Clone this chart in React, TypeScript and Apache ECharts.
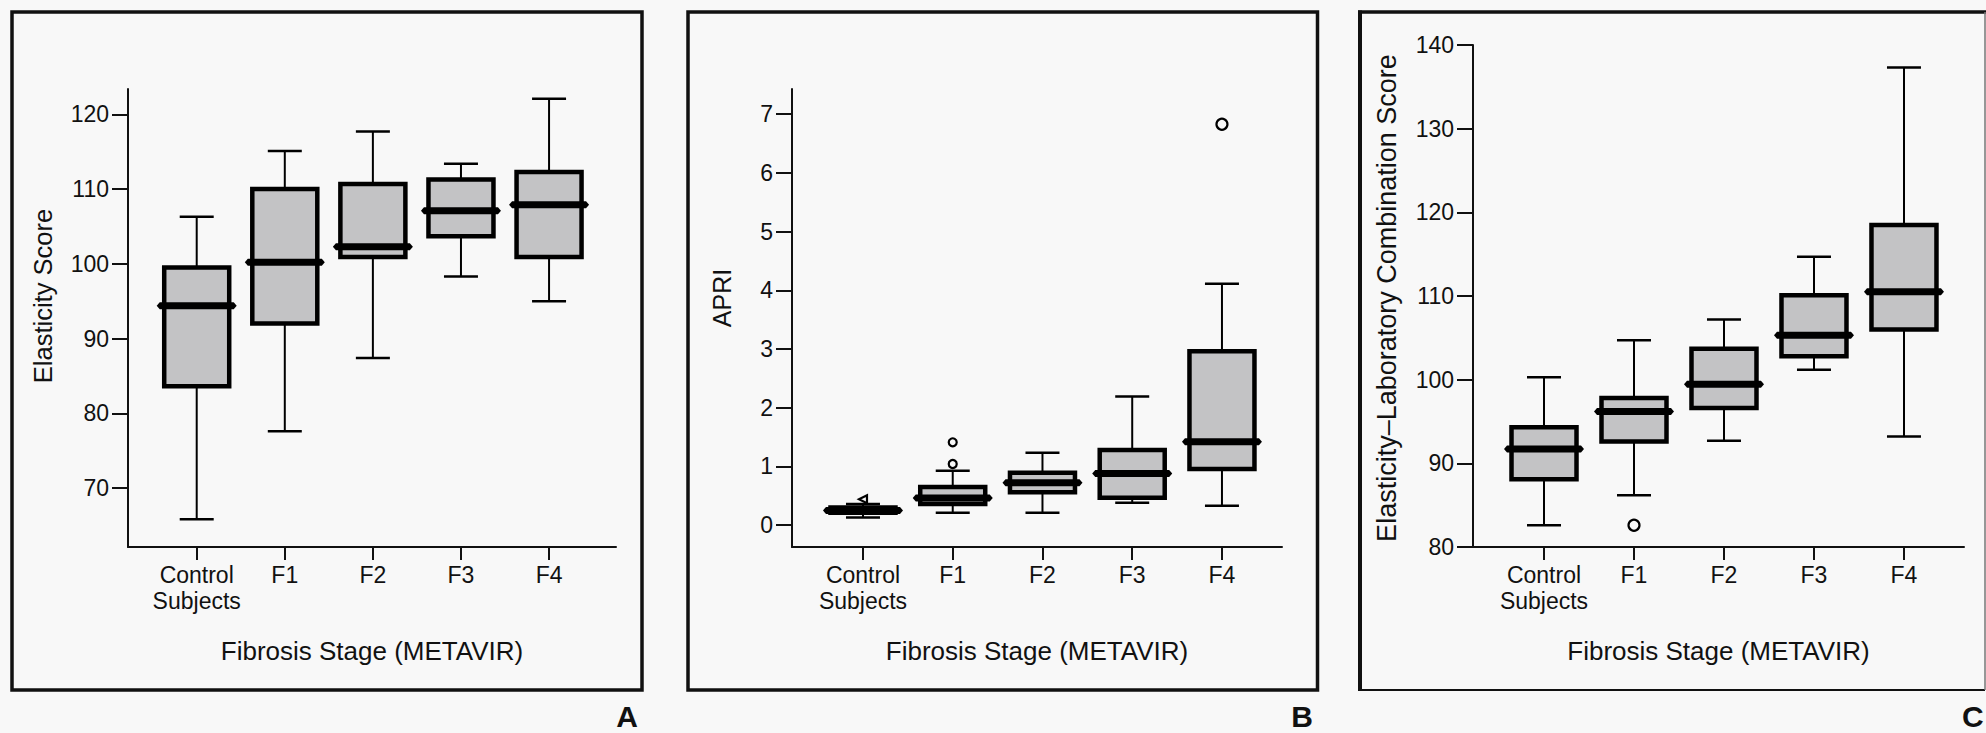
import React, { useEffect, useRef } from "react";
import * as echarts from "echarts";

// ---------- data ----------
const categories = ["Control\nSubjects", "F1", "F2", "F3", "F4"];

// [min, q1, median, q3, max]
const elasticityScore = [
  [65.8, 83.6, 94.4, 99.5, 106.3],
  [77.6, 92.0, 100.2, 110.0, 115.1],
  [87.4, 100.9, 102.3, 110.7, 117.7],
  [98.3, 103.7, 107.1, 111.3, 113.4],
  [95.0, 100.9, 107.9, 112.3, 122.1],
];
const elasticityOutliers: number[][] = [];
const elasticityTicks = [70, 80, 90, 100, 110, 120];

const apri = [
  [0.13, 0.21, 0.25, 0.3, 0.36],
  [0.21, 0.36, 0.46, 0.65, 0.925],
  [0.21, 0.56, 0.72, 0.89, 1.23],
  [0.38, 0.465, 0.88, 1.28, 2.19],
  [0.33, 0.955, 1.42, 2.96, 4.11],
];
const apriOutliers = [
  [0, 0.44],
  [1, 1.04],
  [1, 1.41],
  [4, 6.83],
];
const apriTicks = [0, 1, 2, 3, 4, 5, 6, 7];

const combinationScore = [
  [82.6, 88.1, 91.7, 94.3, 100.3],
  [86.2, 92.6, 96.2, 97.8, 104.7],
  [92.7, 96.6, 99.45, 103.7, 107.2],
  [101.2, 102.8, 105.3, 110.1, 114.7],
  [93.2, 106.0, 110.5, 118.5, 137.3],
];
const combinationOutliers = [[1, 82.6]];
const combinationTicks = [80, 90, 100, 110, 120, 130, 140];

const xTitle = "Fibrosis Stage (METAVIR)";
const panelLetters = ["A", "B", "C"];
const yTitles = ["Elasticity Score", "APRI", "Elasticity–Laboratory Combination Score"];

// ---------- layout ----------
const FONT = "'Liberation Sans', Arial, Helvetica, sans-serif";
const INK = "#111111";
const BG = "#f8f8f8";
const BOX_FILL = "#c3c3c5";

const panels = [
  {
    grid: { left: 128, top: 89, width: 488, height: 458 },
    xMin: -0.78, xMax: 4.76, yMin: 62.1, yMax: 123.4,
    stats: elasticityScore, outliers: elasticityOutliers, ticks: elasticityTicks,
    yTitlePos: [43, 296], yTitleSize: 25.5,
    letterPos: [638, 731], letterAlign: "right",
  },
  {
    grid: { left: 792, top: 89, width: 490, height: 458 },
    xMin: -0.791, xMax: 4.669, yMin: -0.374, yMax: 7.43,
    stats: apri, outliers: apriOutliers, ticks: apriTicks,
    yTitlePos: [722, 298], yTitleSize: 25,
    letterPos: [1313, 731], letterAlign: "right",
  },
  {
    grid: { left: 1473, top: 45, width: 491, height: 502 },
    xMin: -0.789, xMax: 4.667, yMin: 80, yMax: 140,
    stats: combinationScore, outliers: combinationOutliers, ticks: combinationTicks,
    yTitlePos: [1387, 298], yTitleSize: 27,
    letterPos: [1962, 731], letterAlign: "left",
  },
];

function renderBox(params: any, api: any) {
  const x = api.value(0);
  const yMin = api.coord([x, api.value(1)])[1];
  const yQ1 = api.coord([x, api.value(2)])[1];
  const yMed = api.coord([x, api.value(3)])[1];
  const yQ3 = api.coord([x, api.value(4)])[1];
  const yMax = api.coord([x, api.value(5)])[1];
  const cx = api.coord([x, api.value(3)])[0];
  const boxW = 65;
  const capW = 34;
  const medW = 80;
  const medH = 7;
  const lineStyle = { stroke: "#000", lineWidth: 2, fill: "none" };
  const capStyle = { stroke: "#000", lineWidth: 2.5, fill: "none" };
  return {
    type: "group",
    children: [
      { type: "line", shape: { x1: cx, y1: yQ3, x2: cx, y2: yMax }, style: lineStyle },
      { type: "line", shape: { x1: cx, y1: yQ1, x2: cx, y2: yMin }, style: lineStyle },
      { type: "line", shape: { x1: cx - capW / 2, y1: yMax, x2: cx + capW / 2, y2: yMax }, style: capStyle },
      { type: "line", shape: { x1: cx - capW / 2, y1: yMin, x2: cx + capW / 2, y2: yMin }, style: capStyle },
      {
        type: "rect",
        shape: { x: cx - boxW / 2, y: yQ3, width: boxW, height: yQ1 - yQ3 },
        style: { fill: BOX_FILL, stroke: "#000", lineWidth: 4.5 },
      },
      {
        type: "polygon",
        shape: {
          points: [
            [cx - medW / 2, yMed],
            [cx - medW / 2 + 3, yMed - medH / 2],
            [cx + medW / 2 - 3, yMed - medH / 2],
            [cx + medW / 2, yMed],
            [cx + medW / 2 - 3, yMed + medH / 2],
            [cx - medW / 2 + 3, yMed + medH / 2],
          ],
        },
        style: { fill: "#000" },
      },
    ],
  };
}

function buildOption() {
  const grid: any[] = [];
  const xAxis: any[] = [];
  const yAxis: any[] = [];
  const series: any[] = [];
  const graphic: any[] = [];

  panels.forEach((p, i) => {
    grid.push({ ...p.grid, containLabel: false });
    xAxis.push({
      type: "value",
      gridIndex: i,
      min: p.xMin,
      max: p.xMax,
      splitLine: { show: false },
      axisLine: { show: true, onZero: false, lineStyle: { color: INK, width: 2 } },
      axisTick: { show: true, customValues: [0, 1, 2, 3, 4], length: 13, lineStyle: { color: INK, width: 2 } },
      axisLabel: {
        customValues: [0, 1, 2, 3, 4],
        formatter: (v: number) => categories[Math.round(v)] ?? "",
        margin: 15,
        fontFamily: FONT,
        fontSize: 23,
        lineHeight: 26,
        color: INK,
        verticalAlign: "top",
      },
      name: xTitle,
      nameLocation: "middle",
      nameGap: 91,
      nameTextStyle: { fontFamily: FONT, fontSize: 26, color: INK, verticalAlign: "top" },
    });
    yAxis.push({
      type: "value",
      gridIndex: i,
      min: p.yMin,
      max: p.yMax,
      splitLine: { show: false },
      axisLine: { show: true, onZero: false, lineStyle: { color: INK, width: 2 } },
      axisTick: { show: true, customValues: p.ticks, length: 16, lineStyle: { color: INK, width: 2 } },
      axisLabel: {
        customValues: p.ticks,
        margin: 19,
        fontFamily: FONT,
        fontSize: 23,
        color: INK,
      },
    });
    series.push({
      type: "custom",
      xAxisIndex: i,
      yAxisIndex: i,
      renderItem: renderBox,
      encode: { x: 0, y: [1, 2, 3, 4, 5] },
      data: p.stats.map((s, k) => [k, ...s]),
      z: 2,
    });
    series.push({
      type: "scatter",
      xAxisIndex: i,
      yAxisIndex: i,
      z: 3,
      itemStyle: { color: BG, borderColor: "#000", borderWidth: 2.2, opacity: 1 },
      data: p.outliers.map(([x, v]) => ({
        value: [x, v],
        symbol: x === 0 ? "triangle" : "circle",
        symbolRotate: x === 0 ? 90 : 0,
        symbolSize: v > 5 ? 11 : 8,
      })),
    });
    graphic.push({
      type: "text",
      x: p.yTitlePos[0],
      y: p.yTitlePos[1],
      rotation: Math.PI / 2,
      style: {
        text: yTitles[i],
        font: `${p.yTitleSize}px ${FONT}`,
        fill: INK,
        textAlign: "center",
        textVerticalAlign: "middle",
        align: "center",
        verticalAlign: "middle",
      },
    });
    graphic.push({
      type: "text",
      x: p.letterPos[0],
      y: p.letterPos[1],
      style: {
        text: panelLetters[i],
        font: `bold 30px ${FONT}`,
        fill: INK,
        textAlign: p.letterAlign,
        textVerticalAlign: "bottom",
        align: p.letterAlign,
        verticalAlign: "bottom",
      },
    });
  });

  // panel frames
  graphic.push(
    { type: "rect", shape: { x: 12, y: 12, width: 630, height: 678 }, style: { fill: "none", stroke: INK, lineWidth: 3.5 } },
    { type: "rect", shape: { x: 688, y: 12, width: 629.5, height: 678 }, style: { fill: "none", stroke: INK, lineWidth: 3.5 } },
    { type: "line", shape: { x1: 1360, y1: 10.5, x2: 1360, y2: 691 }, style: { stroke: INK, lineWidth: 4 } },
    { type: "line", shape: { x1: 1358, y1: 12, x2: 1986, y2: 12 }, style: { stroke: INK, lineWidth: 3.5 } },
    { type: "line", shape: { x1: 1358, y1: 690, x2: 1985, y2: 690 }, style: { stroke: INK, lineWidth: 2.2 } },
    { type: "line", shape: { x1: 1985, y1: 12, x2: 1985, y2: 690 }, style: { stroke: "#777", lineWidth: 1.5 } }
  );

  return {
    animation: false,
    backgroundColor: BG,
    grid,
    xAxis,
    yAxis,
    series,
    graphic,
  };
}

export default function App() {
  const ref = useRef<HTMLDivElement>(null);
  useEffect(() => {
    if (!ref.current) return;
    const chart = echarts.init(ref.current, null, { renderer: "svg" });
    chart.setOption(buildOption() as any);
    return () => chart.dispose();
  }, []);
  return (
    <div
      ref={ref}
      style={{ position: "fixed", left: 0, top: 0, width: 1986, height: 733, background: BG }}
    />
  );
}
